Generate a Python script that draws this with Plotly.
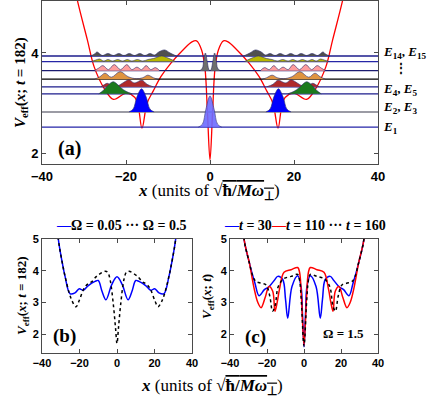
import plotly.graph_objects as go

W, H = 432, 397

# ---------------- data ----------------
# panel (a): effective potential, left half (mirrored about x=0)
A_X = [-34, -31.6, -29.2, -27.6, -25.2, -23.0, -20.2, -18.8, -17.4, -16.2, -15.0, -13.5, -11.7, -9.3, -6.2, -4.3, -3.2, -2.0, -1.2, -0.6, 0]
A_V = [6.0, 5.05, 4.26, 3.73, 3.30, 3.08, 3.20, 3.18, 3.05, 2.51, 3.00, 3.25, 3.53, 3.80, 4.08, 4.22, 4.24, 4.06, 3.70, 2.80, 1.88]

# energy levels E_n (top to bottom)
LEVELS = [3.94, 3.83, 3.65, 3.48, 3.33, 3.19, 2.83, 2.53]

# densities drawn on each level: left-half lobe (x, height above level), mirrored
DENS_X = [
    [-28.5, -27.5, -26.9, -26.2, -25.6, -24.3, -23.0, -21.7, -20.5, -19.2, -18.0, -16.7, -15.5, -14.3, -13.2, -12.2, -10.8, -9.5, -8.0],
    [-28.3, -27.2, -26.3, -25.3, -24.3, -23.2, -22.0, -20.8, -19.7, -18.6, -17.3, -16.0, -14.8, -13.5, -11.5, -10.0, -8.2],
    [-27.5, -26.5, -25.5, -24.2, -22.8, -21.3, -19.8, -18.6, -17.4, -16.3, -15.2, -14.1, -13.0, -12.0],
    [-27.5, -26.2, -25.0, -23.5, -21.4, -19.5, -17.5, -16.0, -14.8, -13.5, -12.5],
    [-26.0, -25.2, -24.5, -23.5, -22.0, -20.5, -19.3, -18.2, -17.7, -16.2, -15.0, -13.5],
    [-26.5, -25.5, -24.5, -23.6, -23.0, -22.2, -21.2, -20.0, -18.5],
    [-19.3, -18.3, -17.4, -16.3, -15.2, -14.3, -13.3],
    [-2.8, -1.8, -1.0, 0.0],
]
DENS_H = [
    [0, 0.04, 0.08, 0.04, 0.01, 0.05, 0.01, 0.05, 0.01, 0.05, 0.01, 0.05, 0.01, 0.05, 0.02, 0.08, 0.12, 0.06, 0],
    [0, 0.03, 0.05, 0.01, 0.04, 0.01, 0.04, 0.01, 0.04, 0.01, 0.04, 0.01, 0.04, 0.06, 0.11, 0.07, 0],
    [0, 0.05, 0.10, 0.02, 0.12, 0.02, 0.12, 0.02, 0.07, 0.02, 0.10, 0.02, 0.06, 0],
    [0, 0.05, 0.12, 0.04, 0.15, 0.05, 0.01, 0.03, 0.08, 0.03, 0],
    [0, 0.04, 0.07, 0.03, 0.02, 0.09, 0.14, 0.08, 0.08, 0.13, 0.05, 0],
    [0, 0.06, 0.15, 0.22, 0.24, 0.20, 0.12, 0.05, 0],
    [0, 0.06, 0.30, 0.46, 0.30, 0.06, 0],
    [0, 0.06, 0.35, 0.62],
]
# central double peak on level index 2
CEN_X = [-2.4, -1.8, -1.5, -1.1, -0.7, -0.3, 0, 0.3, 0.7, 1.1, 1.5, 1.8, 2.4]
CEN_H = [0, 0.05, 0.20, 0.35, 0.20, 0.03, 0, 0.03, 0.20, 0.35, 0.20, 0.05, 0]

LEVEL_LABELS = ["<i>E</i><sub>14</sub>, <i>E</i><sub>15</sub>", "⋮", "<i>E</i><sub>4</sub>, <i>E</i><sub>5</sub>",
                "<i>E</i><sub>2</sub>, <i>E</i><sub>3</sub>", "<i>E</i><sub>1</sub>"]

# panel (b), left halves
B1_X = [-33, -31.3, -29.5, -27.7, -25.0, -22.4, -20.1, -18.0, -15.3, -11.7, -10.0, -8.0, -5.9, -2.8, 0]
B1_V = [6.2, 5.0, 4.35, 3.82, 3.27, 3.30, 3.43, 3.38, 3.53, 3.66, 3.69, 3.35, 3.08, 3.56, 3.81]
B2_X = [-33, -31.3, -29.5, -27.7, -25.5, -24.0, -21.9, -20.2, -17.5, -15.3, -13.5, -10.9, -6.4, -5.0, -3.7, -1.9, -0.8, 0]
B2_V = [6.2, 5.0, 4.35, 3.82, 3.30, 3.05, 2.86, 3.05, 3.45, 3.59, 3.65, 3.82, 3.98, 3.95, 3.72, 2.90, 2.20, 1.70]

# panel (c), left halves
C1_X = [-33, -32.4, -29.5, -26.5, -24.3, -21.4, -18.8, -16.0, -14.2, -11.5, -10.0, -8.8, -6.5, -3.4, -1.6, -0.8, 0]
C1_V = [6.0, 5.0, 4.24, 3.60, 3.21, 3.40, 3.50, 3.70, 3.82, 3.72, 3.10, 2.50, 3.50, 3.84, 3.50, 2.60, 1.60]
C2_X = [-33, -32.4, -29.5, -27.0, -25.0, -23.2, -21.0, -18.9, -16.9, -15.7, -14.5, -13.3, -10.8, -7.0, -3.4, -2.4, -1.4, 0]
C2_V = [6.0, 5.0, 4.24, 3.45, 3.00, 2.83, 3.15, 3.50, 3.35, 2.72, 3.00, 3.40, 3.95, 4.03, 4.10, 3.95, 3.20, 1.65]
C3_X = [-33, -32.4, -29.5, -27.5, -26.0, -23.0, -20.5, -18.5, -17.0, -15.6, -14.2, -12.5, -10.8, -7.0, -3.4, -2.4, -1.4, 0]
C3_V = [6.0, 5.0, 4.24, 3.80, 3.66, 3.60, 3.55, 3.20, 2.72, 2.90, 3.45, 3.65, 3.75, 3.82, 3.88, 3.70, 3.00, 1.62]

X_TICKS = [-40, -20, 0, 20, 40]


def mirror(xs, ys):
    if xs[-1] == 0:
        return xs + [-v for v in xs[-2::-1]], ys + ys[-2::-1]
    return xs, ys


# ---------------- styles ----------------
FILL_COLORS = ["#4f4f4f", "#b8b800", "#ff9d9d", "#df9440", "#b02a2a", "#1c7a1c", "#0000ff", "#6c6cff"]
LINE_COLORS = ["#1c1c8c", "#2626a6", "#1c1c70", "#000000", "#1c1c8c", "#1c1c8c", "#7a7a86", "#2424a8"]
SERIF = "Liberation Serif"
SANS = "Liberation Sans"

fig = go.Figure()

# panel (a)
ax, ay = mirror(A_X, A_V)
fig.add_trace(go.Scatter(x=ax, y=ay, mode="lines", line=dict(color="#ff0000", width=1.3, shape="spline"),
                         xaxis="x", yaxis="y", showlegend=False))

for i, lev in enumerate(LEVELS):
    fig.add_trace(go.Scatter(x=[-40, 40], y=[lev, lev], mode="lines",
                             line=dict(color=LINE_COLORS[i], width=1.3), xaxis="x", yaxis="y", showlegend=False))
    xs, hs = DENS_X[i], DENS_H[i]
    if xs[-1] == 0:
        lobes = [mirror(xs, hs)]
    else:
        lobes = [(xs, hs), ([-v for v in xs[::-1]], hs[::-1])]
    for lx, lh in lobes:
        fig.add_trace(go.Scatter(x=lx, y=[lev + h for h in lh], mode="lines", fill="toself",
                                 fillcolor=FILL_COLORS[i], opacity=0.9 if i == 7 else 1,
                                 line=dict(color="#2c2c6a", width=0.6, shape="spline"),
                                 xaxis="x", yaxis="y", showlegend=False))
    if i == 2:
        fig.add_trace(go.Scatter(x=CEN_X, y=[lev + h for h in CEN_H], mode="lines", fill="toself",
                                 fillcolor="#6e6e6e", line=dict(color="#2c2c6a", width=0.6, shape="spline"),
                                 xaxis="x", yaxis="y", showlegend=False))

# panel (b)
bx, by = mirror(B1_X, B1_V)
fig.add_trace(go.Scatter(x=bx, y=by, mode="lines", line=dict(color="#0000ff", width=1.5, shape="spline"),
                         xaxis="x2", yaxis="y2", showlegend=False))
bx, by = mirror(B2_X, B2_V)
fig.add_trace(go.Scatter(x=bx, y=by, mode="lines", line=dict(color="#000000", width=1.5, dash="dot", shape="spline"),
                         xaxis="x2", yaxis="y2", showlegend=False))

# panel (c)
for xs, vs, col, dash in [(C1_X, C1_V, "#0000ff", "solid"), (C2_X, C2_V, "#ff0000", "solid"),
                          (C3_X, C3_V, "#000000", "dot")]:
    cx, cy = mirror(xs, vs)
    fig.add_trace(go.Scatter(x=cx, y=cy, mode="lines", line=dict(color=col, width=1.5, dash=dash, shape="spline"),
                             xaxis="x3", yaxis="y3", showlegend=False))


def px(x):
    return x / W


def py(y):
    return 1 - y / H


axis_common = dict(showgrid=False, zeroline=False, showline=True, linecolor="#4a4a4a", linewidth=1,
                   mirror="ticks", ticks="inside", ticklen=4, tickcolor="#4a4a4a", automargin=False)

fig.update_layout(
    template="none",
    width=W, height=H, margin=dict(l=0, r=0, t=0, b=0, pad=0),
    paper_bgcolor="white", plot_bgcolor="white", showlegend=False,
    xaxis=dict(domain=[px(42), px(378)], range=[-40, 40], tickvals=X_TICKS, anchor="y",
               tickfont=dict(family=SANS, size=13, color="black", weight="bold"), **axis_common),
    yaxis=dict(domain=[py(164), py(1)], range=[1.8, 5.03], tickvals=[2, 4], anchor="x",
               tickfont=dict(family=SANS, size=13, color="black", weight="bold"), **axis_common),
    xaxis2=dict(domain=[px(42), px(192)], range=[-40, 40], tickvals=X_TICKS, anchor="y2",
                tickfont=dict(family=SANS, size=11, color="black", weight="bold"), **axis_common),
    yaxis2=dict(domain=[py(353), py(239)], range=[1.4, 5], tickvals=[2, 3, 4, 5], anchor="x2",
                tickfont=dict(family=SANS, size=11, color="black", weight="bold"), **axis_common),
    xaxis3=dict(domain=[px(230), px(378)], range=[-40, 40], tickvals=X_TICKS, anchor="y3",
                tickfont=dict(family=SANS, size=11, color="black", weight="bold"), **axis_common),
    yaxis3=dict(domain=[py(353), py(239)], range=[1.4, 5], tickvals=[2, 3, 4, 5], anchor="x3",
                tickfont=dict(family=SANS, size=11, color="black", weight="bold"), **axis_common),
)

XTITLE = ("<b><i>x</i></b> (units of √<span style='text-decoration:overline'><b>ħ/<i>Mω</i></b>"
          "<sub><b>⊥</b></sub></span>)")


def ann(x, y, text, size, angle=0, xanchor="center", color="black", weight="bold"):
    fig.add_annotation(x=px(x), y=py(y), xref="paper", yref="paper", text=text, showarrow=False,
                       textangle=angle, xanchor=xanchor, yanchor="middle",
                       font=dict(family=SERIF, size=size, color=color, weight=weight))


# panel (a) texts
ann(21, 83, "<i>V</i><sub>eff</sub>(<i>x</i>; <i>t</i> = 182)", 15, angle=-90)
ann(209, 192, XTITLE, 17, weight="normal")
ann(69, 148, "(a)", 20)
label_y = [52, 68, 89, 107, 127]
for t, yy in zip(LEVEL_LABELS, label_y):
    if t == "⋮":
        ann(401, yy, t, 12)
    else:
        ann(381, yy, t, 13, xanchor="left")

# panel (b) texts
ann(22, 296, "<i>V</i><sub>eff</sub>(<i>x</i>; <i>t</i> = 182)", 13, angle=-90)
ann(64, 336, "(b)", 19)
ann(121, 226, "<span style='color:#0000ff'>—</span>Ω = 0.05 ··· Ω = 0.5", 14)

# panel (c) texts
ann(207, 297, "<i>V</i><sub>eff</sub>(<i>x</i>; <i>t</i>)", 13, angle=-90)
ann(255, 337, "(c)", 19)
ann(343, 333, "Ω = 1.5", 13)
ann(305, 226, "<span style='color:#0000ff'>—</span><i>t</i> = 30<span style='color:#ff0000'>—</span><i>t</i> = 110 ··· <i>t</i> = 160", 14)

# shared bottom x title
ann(212, 387, XTITLE, 17, weight="normal")

fig.write_html("out.html", config={"displayModeBar": False},
               post_script="document.body.style.margin='0px';document.body.style.padding='0px';")
